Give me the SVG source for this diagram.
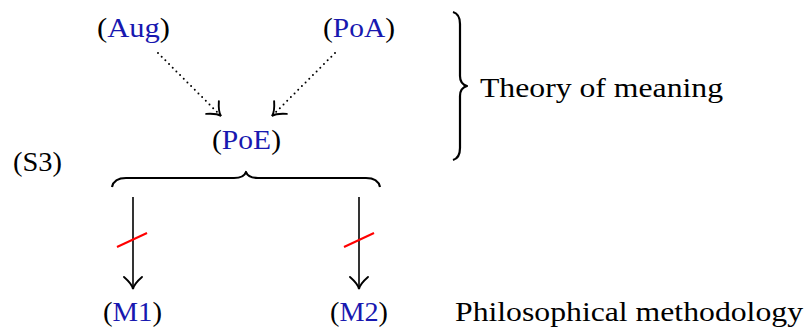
<svg xmlns="http://www.w3.org/2000/svg" width="810" height="328" viewBox="0 0 810 328">
<style>
text{font-family:"Liberation Serif","DejaVu Serif",serif;font-size:28px;fill:#000}
.b{fill:#1818b0}
.ln{fill:none;stroke:#000;stroke-width:1.6}
.dot{fill:none;stroke:#000;stroke-width:2;stroke-linecap:round;stroke-dasharray:0 5.2}
.brace{fill:none;stroke:#000;stroke-width:2.2;stroke-linejoin:round}
.red{stroke:#ff0000;stroke-width:2}
</style>
<defs>
<marker id="to" viewBox="-15 -11 17 22" refX="0" refY="0" markerWidth="17" markerHeight="22" markerUnits="userSpaceOnUse" orient="auto">
<path d="M -12 -9 Q -5 -1 0 0 Q -5 1 -12 9" fill="none" stroke="#000" stroke-width="1.9" stroke-linecap="round"/>
</marker>
</defs>
<g id="connectors">
<path class="dot" d="M 158 53 L 218 113"/>
<path class="ln" d="M 219 114 L 221 116" marker-end="url(#to)"/>
<path class="dot" d="M 335 53 L 275 113"/>
<path class="ln" d="M 274 114 L 272 116" marker-end="url(#to)"/>
<path class="ln" d="M 133 197 L 133 289" marker-end="url(#to)"/>
<path class="ln" d="M 359 197 L 359 289" marker-end="url(#to)"/>
<line class="red" x1="117" y1="247" x2="147" y2="233"/>
<line class="red" x1="344" y1="247" x2="374" y2="233"/>
</g>
<g id="brace-poe">
<path class="brace" d="M 112 187 Q 114 178 126 178 L 234 178 Q 244 178 246 172 Q 248 178 258 178 L 366 178 Q 378 178 380 187"/>
</g>
<g id="brace-theory">
<path class="brace" d="M 453 12 Q 460 14 460 24 L 460 76 Q 460 84 467 86 Q 460 88 460 96 L 460 148 Q 460 158 453 160"/>
</g>
<g id="node-aug"><text x="97" y="37" textLength="73" lengthAdjust="spacingAndGlyphs">(<tspan class="b">Aug</tspan>)</text></g>
<g id="node-poa"><text x="323" y="37" textLength="72" lengthAdjust="spacingAndGlyphs">(<tspan class="b">PoA</tspan>)</text></g>
<g id="node-poe"><text x="212" y="149" textLength="69" lengthAdjust="spacingAndGlyphs">(<tspan class="b">PoE</tspan>)</text></g>
<g id="label-s3"><text x="13" y="171" textLength="49" lengthAdjust="spacingAndGlyphs">(S3)</text></g>
<g id="node-m1"><text x="103" y="321" textLength="59" lengthAdjust="spacingAndGlyphs">(<tspan class="b">M1</tspan>)</text></g>
<g id="node-m2"><text x="330" y="321" textLength="58" lengthAdjust="spacingAndGlyphs">(<tspan class="b">M2</tspan>)</text></g>
<g id="label-theory"><text x="480" y="97" textLength="243" lengthAdjust="spacingAndGlyphs">Theory of meaning</text></g>
<g id="label-method"><text x="455" y="321" textLength="348" lengthAdjust="spacingAndGlyphs">Philosophical methodology</text></g>
</svg>
